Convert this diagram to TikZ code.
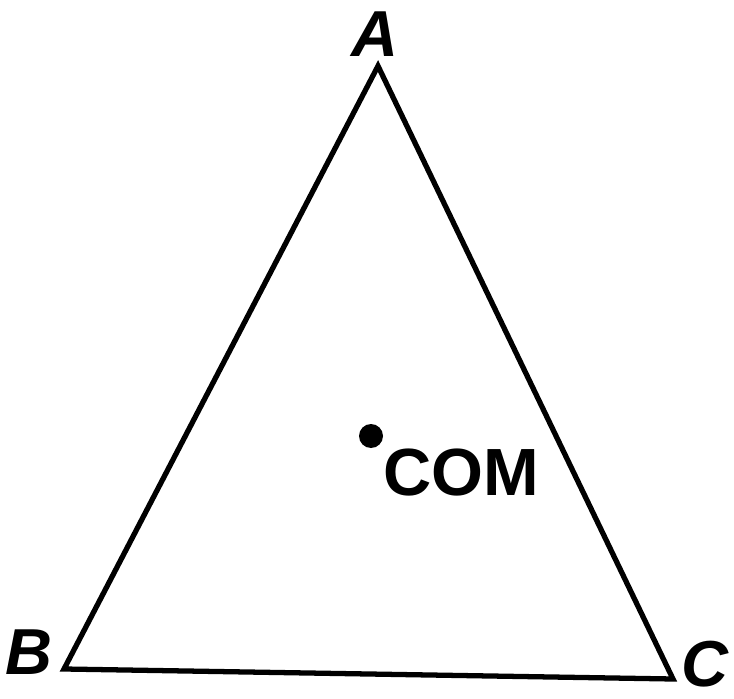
\documentclass[tikz,border=0pt]{standalone}
\usepackage{fontspec}
\setmainfont{Liberation Sans}
\begin{document}
\begin{tikzpicture}[
    x=0.02cm, y=-0.02cm,
    every node/.style={font=\fontsize{37}{40}\selectfont\bfseries, inner sep=0pt},
    vlabel/.style={font=\fontsize{37}{40}\selectfont\bfseries\itshape},
    side/.style={line width=3pt, black, line join=miter}
]
\useasboundingbox (0,0) rectangle (734,699);
\coordinate (a) at (378,66);
\coordinate (b) at (64,669);
\coordinate (c) at (673,679);
\draw[side] (a) -- (b) -- (c) -- cycle;
\node[vlabel] (la) at (375,34) {A};
\node[vlabel] (lb) at (29,652) {B};
\node[vlabel] (lc) at (705,664) {C};
\fill (371,436) circle (12) coordinate (com);
\node[font=\fontsize{38}{40}\selectfont\bfseries] (lcom) at (461,473) {COM};
\end{tikzpicture}
\end{document}
